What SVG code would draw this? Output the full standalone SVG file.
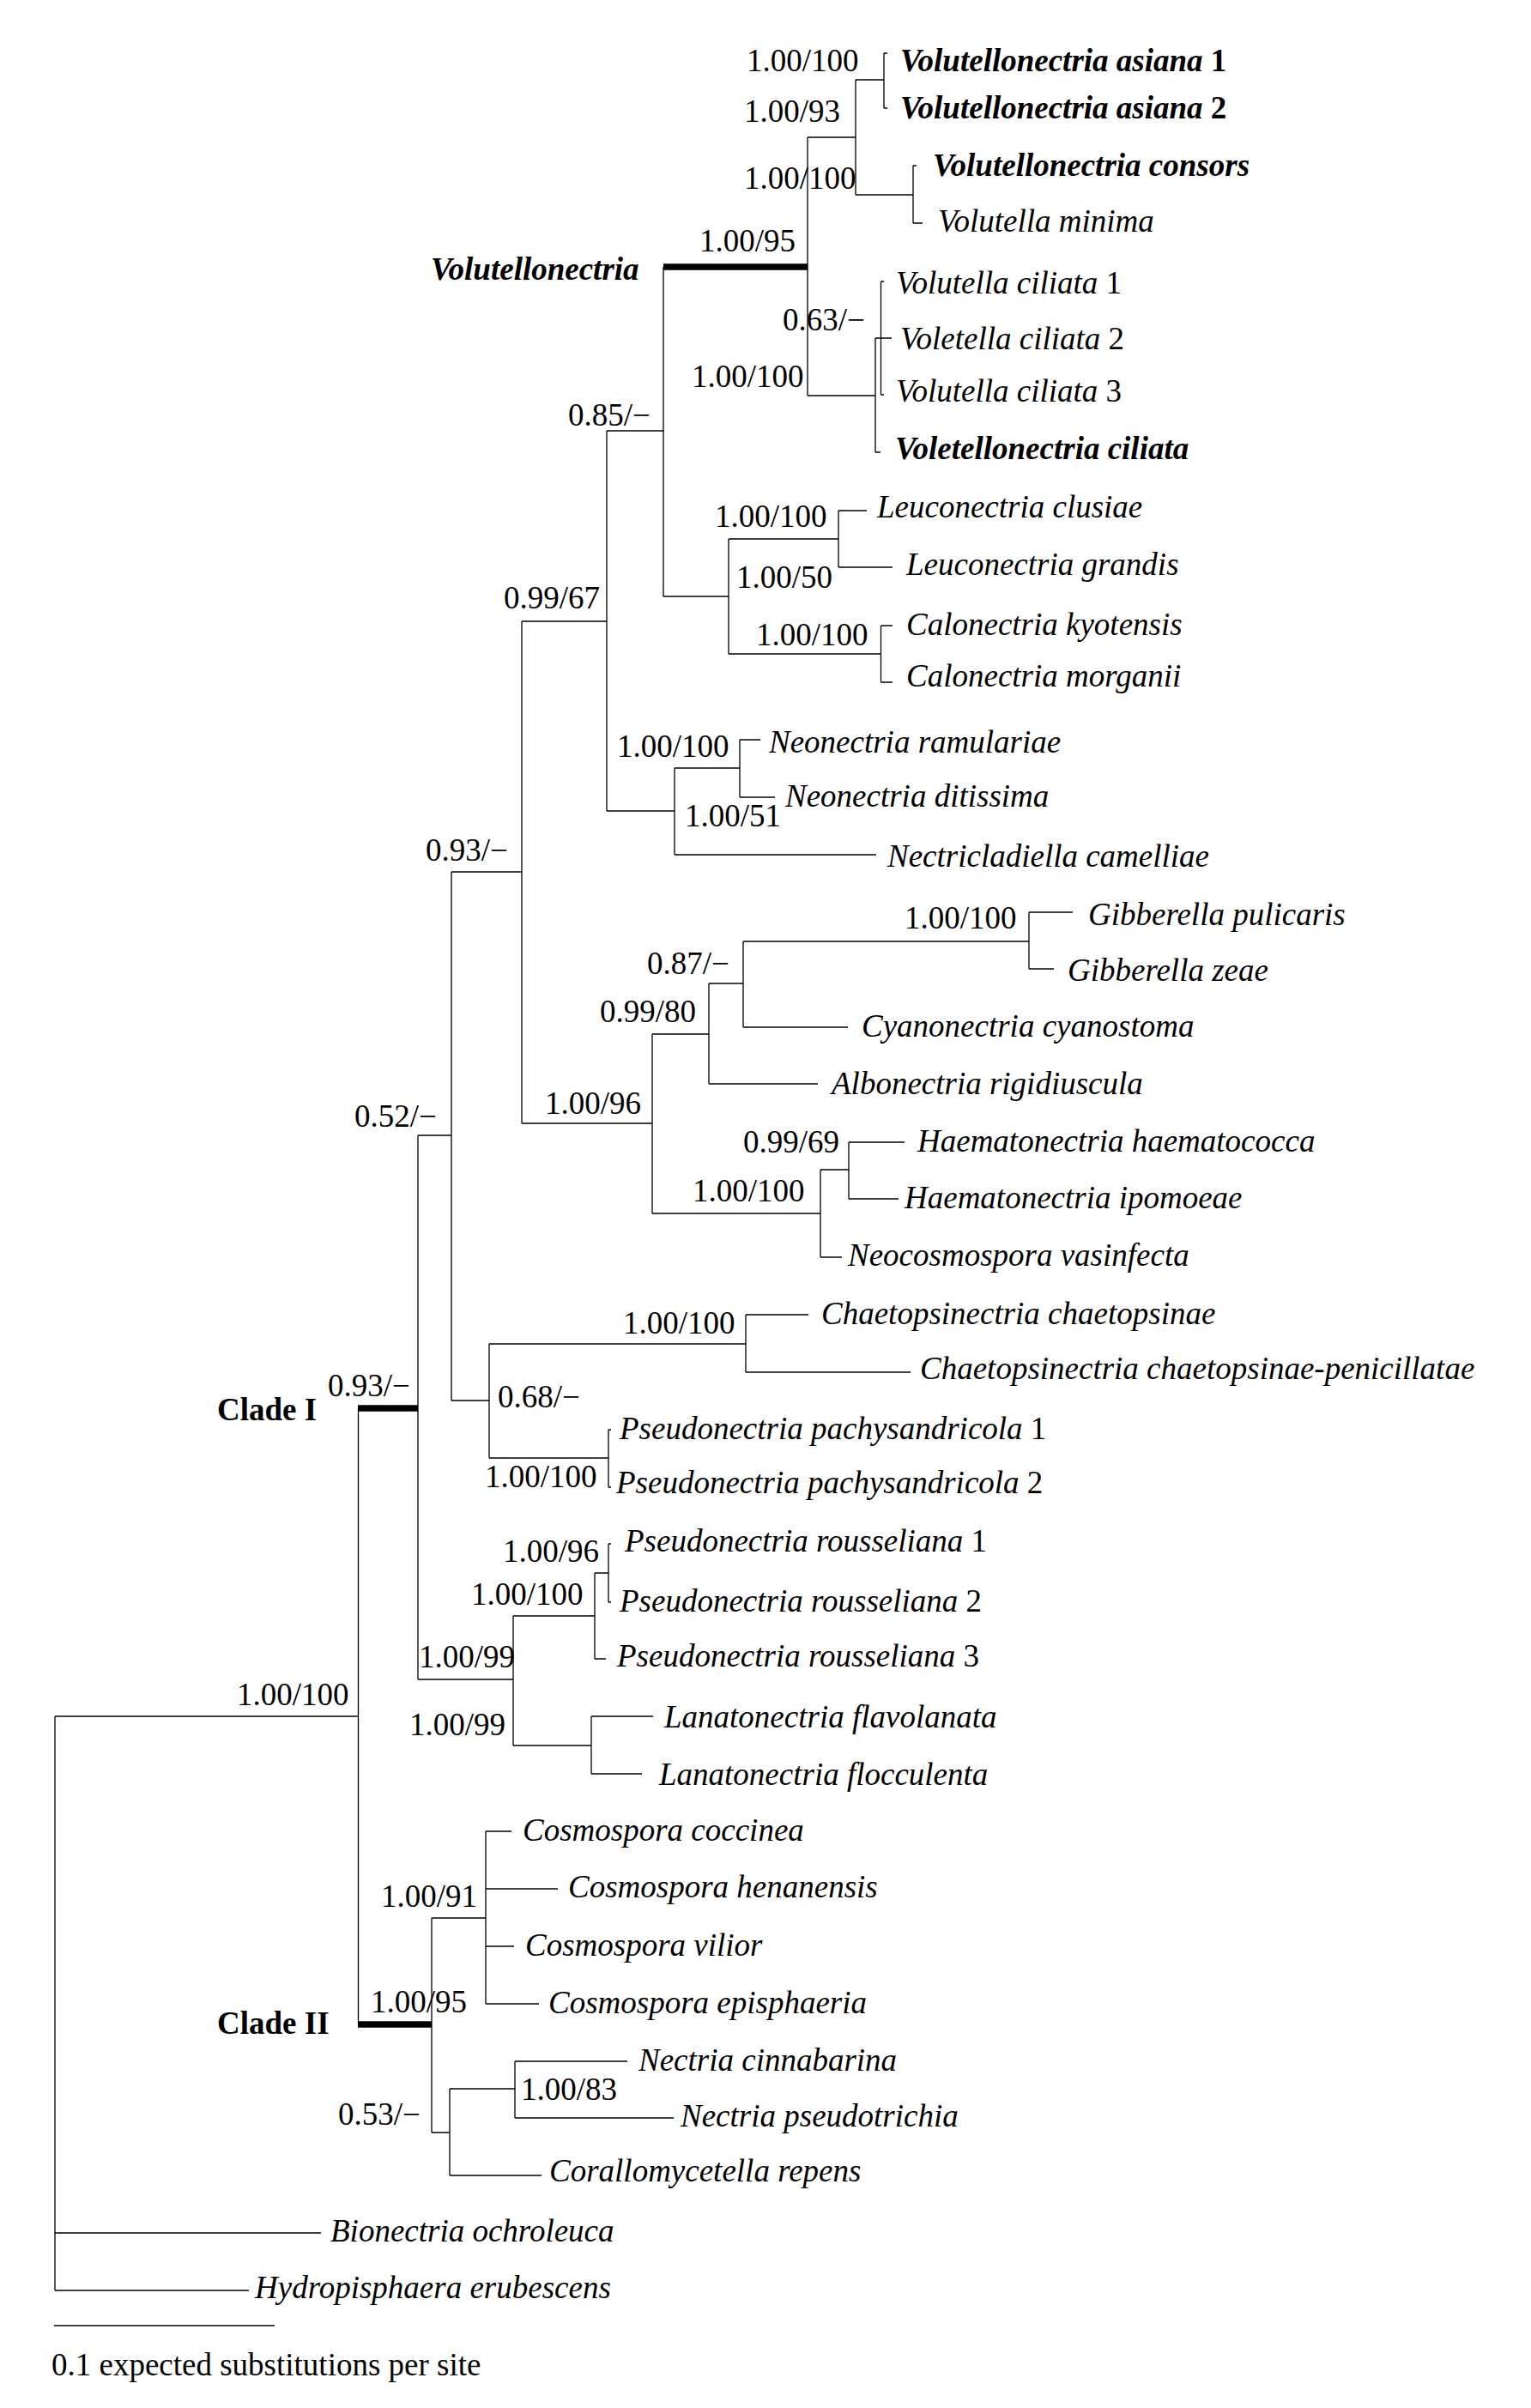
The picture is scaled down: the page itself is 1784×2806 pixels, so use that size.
<svg xmlns="http://www.w3.org/2000/svg" width="1784" height="2806" viewBox="0 0 1784 2806">
<style>
text{font-family:"Liberation Serif","Times New Roman",serif;font-size:37px;fill:#000}
.sp{font-style:italic}
.b{font-style:italic;font-weight:bold}
.n{font-style:normal}
.cl{font-weight:bold}
.br{fill:none;stroke:#000;stroke-width:1.3}
.th{fill:none;stroke:#000;stroke-width:7.5}
</style>
<rect width="1784" height="2806" fill="#fff"/>
<g id="connectors">
<path class="br" d="M64 2000V2669M64 2000H417M64 2602H374M64 2669H290"/>
<path class="br" d="M417.5 1641V2359"/>
<path class="br" d="M503 2235V2485M503 2235H566M566 2134V2335M566 2134H596M566 2201H650M566 2268H599M566 2335H628M503 2485H524M524 2434V2535M524 2434H600M600 2402V2468M600 2402H731M600 2468H785M524 2535H631"/>
<path class="br" d="M487 1323V1957M487 1323H526M487 1957H598M598 1883V2034M598 1883H693M693 1833V1933M693 1833H709M709 1799V1867M709 1799H712M709 1867H712M693 1933H706M598 2034H689M689 2000V2067M689 2000H761M689 2067H748"/>
<path class="br" d="M526 1016V1632M526 1632H570M570 1566V1699M570 1566H869M869 1532V1599M869 1532H942M869 1599H1061M570 1699H709M709 1666V1733M709 1666H712M709 1733H712M526 1016H608"/>
<path class="br" d="M608 724V1309M608 724H707M608 1309H760M760 1205V1414M760 1205H826M826 1146V1263M826 1146H866M866 1097V1197M866 1097H1199M1199 1063V1129M1199 1063H1250M1199 1129H1228M866 1197H988M826 1263H953M760 1414H956M956 1363V1465M956 1363H989M989 1331V1397M989 1331H1054M989 1397H1047M956 1465H981"/>
<path class="br" d="M707 502V945M707 502H773M707 945H786M786 895V996M786 895H862M862 862V929M862 862H886M862 929H903M786 996H1021"/>
<path class="br" d="M773 311V695M773 695H849M849 628V762M849 628H977M977 595V661M977 595H1010M977 661H1040M849 762H1026M1026.5 729V795M1026.5 729H1040M1026.5 795H1040"/>
<path class="br" d="M941 160V461M941 160H997M997 93V227M997 93H1030M1030 62V126M1030 62H1034M1030 126H1034M997 227H1064M1064 193V260M1064 193H1068M1064 260H1075M941 461H1020M1020 394V527M1020 394H1039M1026.5 328V460M1026.5 328H1030M1026.5 460H1030M1020 527H1026"/>
<path class="th" d="M773 311H941M417 1641H487M417 2359H503"/>
<path class="br" d="M63 2710H320"/>
</g>
<g id="taxa">
<g id="t1"><text class="b" x="1049" y="83">Volutellonectria asiana <tspan class="n">1</tspan></text></g>
<g id="t2"><text class="b" x="1049" y="138">Volutellonectria asiana <tspan class="n">2</tspan></text></g>
<g id="t3"><text class="b" x="1087" y="205">Volutellonectria consors</text></g>
<g id="t4"><text class="sp" x="1093" y="270">Volutella minima</text></g>
<g id="t5"><text class="sp" x="1044" y="342">Volutella ciliata <tspan class="n">1</tspan></text></g>
<g id="t6"><text class="sp" x="1049" y="407">Voletella ciliata <tspan class="n">2</tspan></text></g>
<g id="t7"><text class="sp" x="1044" y="468">Volutella ciliata <tspan class="n">3</tspan></text></g>
<g id="t8"><text class="b" x="1043" y="535">Voletellonectria ciliata</text></g>
<g id="t9"><text class="sp" x="1022" y="603">Leuconectria clusiae</text></g>
<g id="t10"><text class="sp" x="1056" y="670">Leuconectria grandis</text></g>
<g id="t11"><text class="sp" x="1056" y="740">Calonectria kyotensis</text></g>
<g id="t12"><text class="sp" x="1056" y="800">Calonectria morganii</text></g>
<g id="t13"><text class="sp" x="896" y="877">Neonectria ramulariae</text></g>
<g id="t14"><text class="sp" x="915" y="940">Neonectria ditissima</text></g>
<g id="t15"><text class="sp" x="1034" y="1010">Nectricladiella camelliae</text></g>
<g id="t16"><text class="sp" x="1268" y="1078">Gibberella pulicaris</text></g>
<g id="t17"><text class="sp" x="1244" y="1143">Gibberella zeae</text></g>
<g id="t18"><text class="sp" x="1004" y="1208">Cyanonectria cyanostoma</text></g>
<g id="t19"><text class="sp" x="969" y="1275">Albonectria rigidiuscula</text></g>
<g id="t20"><text class="sp" x="1069" y="1342">Haematonectria haematococca</text></g>
<g id="t21"><text class="sp" x="1054" y="1408">Haematonectria ipomoeae</text></g>
<g id="t22"><text class="sp" x="988" y="1475">Neocosmospora vasinfecta</text></g>
<g id="t23"><text class="sp" x="957" y="1543">Chaetopsinectria chaetopsinae</text></g>
<g id="t24"><text class="sp" x="1072" y="1607">Chaetopsinectria chaetopsinae-penicillatae</text></g>
<g id="t25"><text class="sp" x="722" y="1677">Pseudonectria pachysandricola <tspan class="n">1</tspan></text></g>
<g id="t26"><text class="sp" x="718" y="1740">Pseudonectria pachysandricola <tspan class="n">2</tspan></text></g>
<g id="t27"><text class="sp" x="728" y="1808">Pseudonectria rousseliana <tspan class="n">1</tspan></text></g>
<g id="t28"><text class="sp" x="722" y="1878">Pseudonectria rousseliana <tspan class="n">2</tspan></text></g>
<g id="t29"><text class="sp" x="719" y="1942">Pseudonectria rousseliana <tspan class="n">3</tspan></text></g>
<g id="t30"><text class="sp" x="774" y="2013">Lanatonectria flavolanata</text></g>
<g id="t31"><text class="sp" x="768" y="2080">Lanatonectria flocculenta</text></g>
<g id="t32"><text class="sp" x="609" y="2145">Cosmospora coccinea</text></g>
<g id="t33"><text class="sp" x="662" y="2211">Cosmospora henanensis</text></g>
<g id="t34"><text class="sp" x="612" y="2279">Cosmospora vilior</text></g>
<g id="t35"><text class="sp" x="639" y="2346">Cosmospora episphaeria</text></g>
<g id="t36"><text class="sp" x="744" y="2413">Nectria cinnabarina</text></g>
<g id="t37"><text class="sp" x="793" y="2478">Nectria pseudotrichia</text></g>
<g id="t38"><text class="sp" x="640" y="2542">Corallomycetella repens</text></g>
<g id="t39"><text class="sp" x="385" y="2612">Bionectria ochroleuca</text></g>
<g id="t40"><text class="sp" x="297" y="2678">Hydropisphaera erubescens</text></g>
</g>
<g id="support">
<text x="870" y="83">1.00/100</text>
<text x="867" y="142">1.00/93</text>
<text x="867" y="220">1.00/100</text>
<text x="815" y="293">1.00/95</text>
<text x="912" y="385">0.63/−</text>
<text x="806" y="451">1.00/100</text>
<text x="662" y="496">0.85/−</text>
<text x="833" y="614">1.00/100</text>
<text x="858" y="685">1.00/50</text>
<text x="881" y="752">1.00/100</text>
<text x="587" y="709">0.99/67</text>
<text x="719" y="882">1.00/100</text>
<text x="798" y="963">1.00/51</text>
<text x="496" y="1003">0.93/−</text>
<text x="1054" y="1082">1.00/100</text>
<text x="754" y="1135">0.87/−</text>
<text x="699" y="1191">0.99/80</text>
<text x="635" y="1298">1.00/96</text>
<text x="866" y="1343">0.99/69</text>
<text x="807" y="1400">1.00/100</text>
<text x="413" y="1313">0.52/−</text>
<text x="726" y="1554">1.00/100</text>
<text x="580" y="1640">0.68/−</text>
<text x="565" y="1733">1.00/100</text>
<text x="382" y="1627">0.93/−</text>
<text x="586" y="1820">1.00/96</text>
<text x="549" y="1870">1.00/100</text>
<text x="488" y="1943">1.00/99</text>
<text x="477" y="2022">1.00/99</text>
<text x="276" y="1987">1.00/100</text>
<text x="444" y="2222">1.00/91</text>
<text x="432" y="2345">1.00/95</text>
<text x="607" y="2447">1.00/83</text>
<text x="394" y="2476">0.53/−</text>
</g>
<g id="labels">
<g id="clade-volutellonectria"><text class="b" x="502" y="326">Volutellonectria</text></g>
<g id="clade-1"><text class="cl" x="253" y="1655">Clade I</text></g>
<g id="clade-2"><text class="cl" x="253" y="2370">Clade II</text></g>
<g id="scale"><text x="60" y="2768">0.1 expected substitutions per site</text></g>
</g>
</svg>
